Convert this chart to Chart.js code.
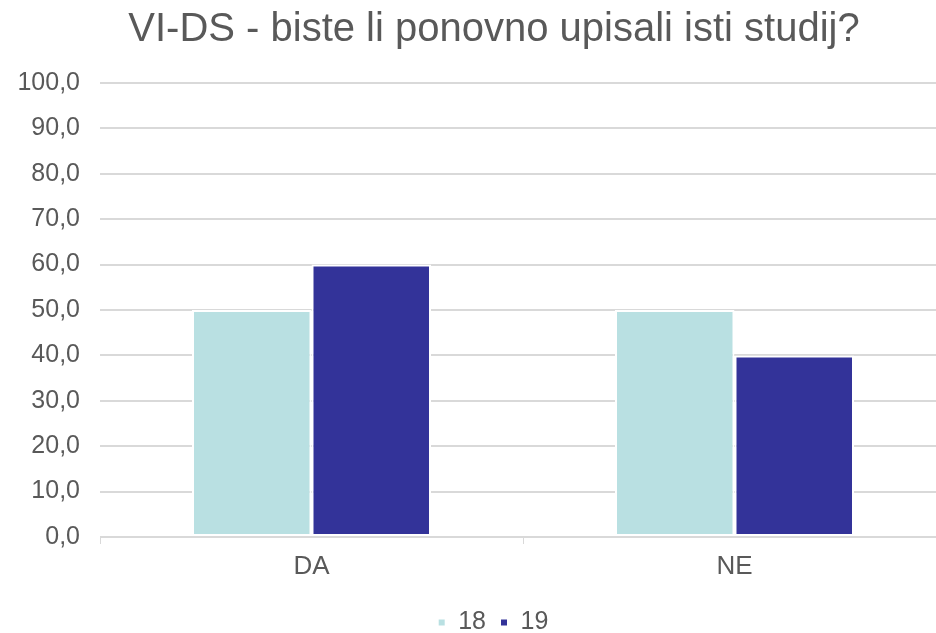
<!DOCTYPE html>
<html>
<head>
<meta charset="utf-8">
<script src="https://cdn.jsdelivr.net/npm/chart.js@4/dist/chart.umd.min.js"></script>
<style>
  html, body { margin: 0; padding: 0; background: #fff; overflow: hidden; }
  #wrap { width: 946px; height: 645px; }
</style>
</head>
<body>
<div id="wrap"><canvas id="chart"></canvas></div>
<script>
const categories = ['DA', 'NE'];
const series18 = [50, 50];
const series19 = [60, 40];
const seriesNames = ['18', '19'];
const yTicks = [0, 10, 20, 30, 40, 50, 60, 70, 80, 90, 100];

const fontFamily = '"Liberation Sans", Arial, sans-serif';
const textGray = '#595959';

// title and legend in the original sit a bit right of the canvas centre
const shiftBlocks = {
  id: 'shiftBlocks',
  afterLayout(chart) {
    if (chart.titleBlock) chart.titleBlock.left += 24;
    if (chart.legend) chart.legend.left += 22;
  }
};

new Chart(document.getElementById('chart'), {
  type: 'bar',
  data: {
    labels: categories,
    datasets: [
      {
        label: seriesNames[0],
        data: series18,
        backgroundColor: '#b9e0e2',
        borderColor: '#ffffff',
        borderWidth: 2,
        borderSkipped: false
      },
      {
        label: seriesNames[1],
        data: series19,
        backgroundColor: '#333399',
        borderColor: '#ffffff',
        borderWidth: 2,
        borderSkipped: false
      }
    ]
  },
  plugins: [shiftBlocks],
  options: {
    responsive: true,
    maintainAspectRatio: false,
    animation: false,
    layout: { padding: { left: 18, right: 0, top: 0, bottom: 0 } },
    datasets: {
      bar: { categoryPercentage: 0.565, barPercentage: 1.0 }
    },
    plugins: {
      title: {
        display: true,
        text: 'VI-DS - biste li ponovno upisali isti studij?',
        color: textGray,
        font: { family: fontFamily, size: 40, weight: 'normal' },
        padding: { top: 6, bottom: 29 }
      },
      legend: {
        position: 'bottom',
        labels: {
          color: textGray,
          font: { family: fontFamily, size: 25 },
          boxWidth: 8,
          boxHeight: 8,
          padding: 14
        }
      },
      tooltip: { enabled: false }
    },
    scales: {
      x: {
        afterFit: (scale) => { scale.height = 59; },
        grid: {
          drawOnChartArea: false,
          drawTicks: true,
          tickLength: 7,
          color: '#d9d9d9'
        },
        border: { display: true, color: '#d9d9d9', width: 1 },
        ticks: {
          color: textGray,
          font: { family: fontFamily, size: 26 },
          padding: 7
        }
      },
      y: {
        min: 0,
        max: 100,
        afterFit: (scale) => { scale.width = 82; },
        afterBuildTicks: (axis) => {
          axis.ticks = yTicks.map((v) => ({ value: v }));
        },
        grid: { color: '#d9d9d9', lineWidth: 2, drawTicks: false },
        border: { display: false },
        ticks: {
          color: textGray,
          font: { family: fontFamily, size: 25 },
          padding: 20,
          callback: (v) => v.toFixed(1).replace('.', ',')
        }
      }
    }
  }
});
</script>
</body>
</html>
